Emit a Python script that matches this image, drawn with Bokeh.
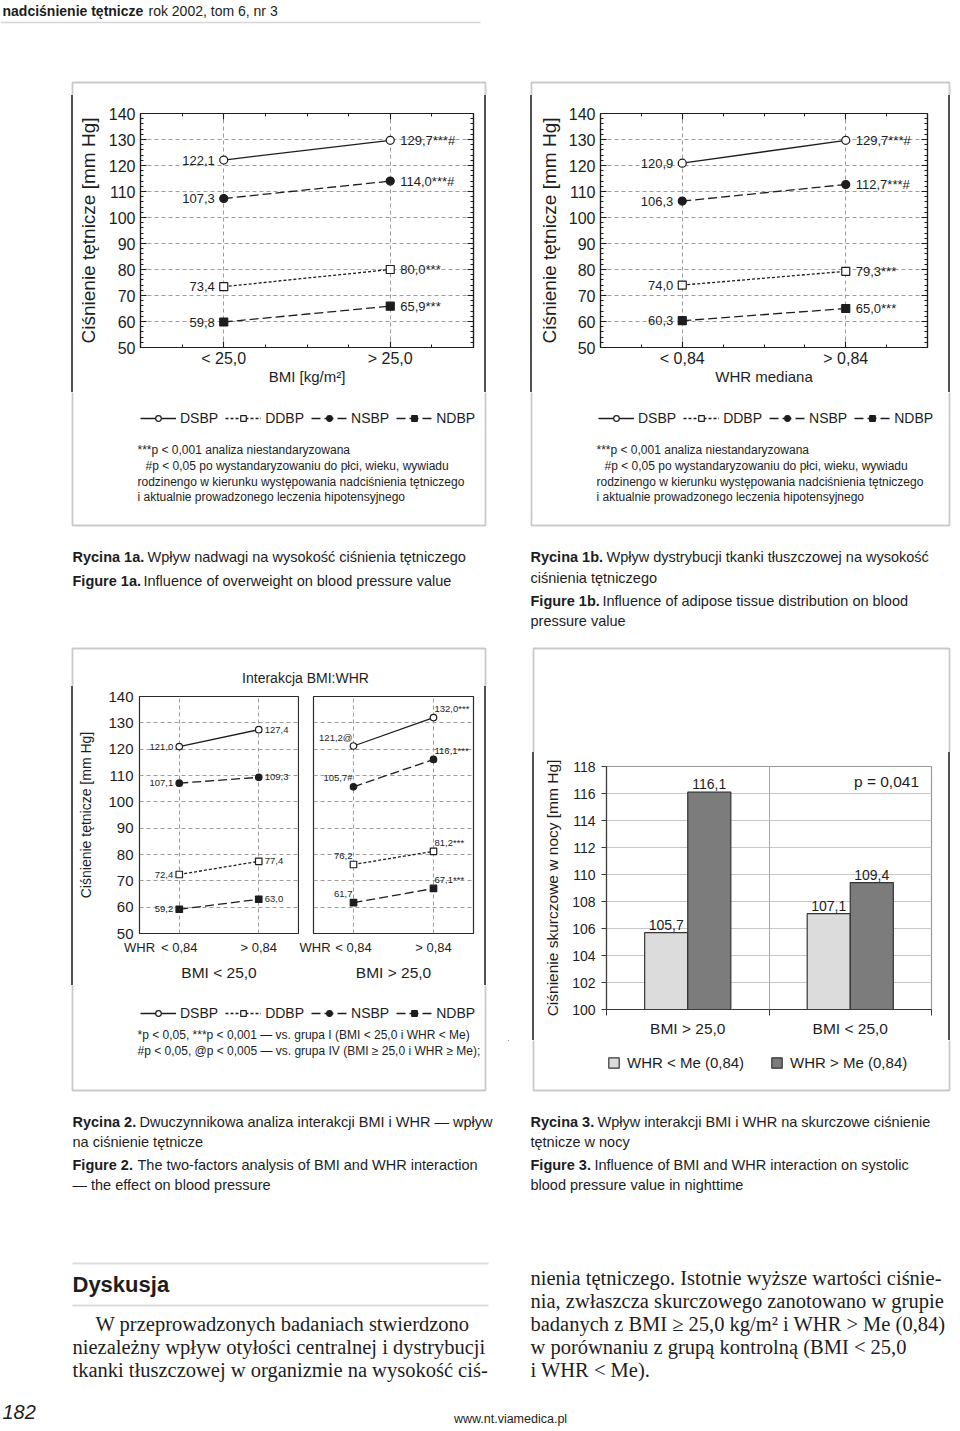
import math
from bokeh.plotting import figure
from bokeh.models import (Range1d, Label, LabelSet, ColumnDataSource, LinearAxis, Grid,
                          SingleIntervalTicker, FixedTicker, CustomJSTickFormatter,
                          Legend, LegendItem, PolyAnnotation, Div)
from bokeh.layouts import row, column
from bokeh.embed import file_html
from bokeh.resources import INLINE
from bokeh.core.properties import value

SANS = "Liberation Sans"
SERIF = "Liberation Serif"
INK = "#1d1d1d"
BOXC = "#505050"
GRIDC = "#9c9c9c"

# ---------------- data ----------------
series_names = ["DSBP", "DDBP", "NSBP", "NDBP"]
bmi_groups = ["< 25,0", "> 25,0"]
whr_groups = ["< 0,84", "> 0,84"]
whr_axis_name = "WHR"

f1a_DSBP = [122.1, 129.7]
f1a_DDBP = [73.4, 80.0]
f1a_NSBP = [107.3, 114.0]
f1a_NDBP = [59.8, 65.9]
f1a_marks = ["***#", "***", "***#", "***"]

f1b_DSBP = [120.9, 129.7]
f1b_DDBP = [74.0, 79.3]
f1b_NSBP = [106.3, 112.7]
f1b_NDBP = [60.3, 65.0]
f1b_marks = ["***#", "***", "***#", "***"]

f2_low_DSBP = [121.0, 127.4]    # BMI < 25,0
f2_low_DDBP = [72.4, 77.4]
f2_low_NSBP = [107.1, 109.3]
f2_low_NDBP = [59.2, 63.0]
f2_high_DSBP = [121.2, 132.0]   # BMI > 25,0
f2_high_DDBP = [76.2, 81.2]
f2_high_NSBP = [105.7, 116.1]
f2_high_NDBP = [61.7, 67.1]
f2_high_marks_left = ["@", "", "#", ""]
f2_high_marks_right = ["***", "***", "***", "***"]

f3_groups = ["BMI > 25,0", "BMI < 25,0"]
f3_series = ["WHR < Me (0,84)", "WHR > Me (0,84)"]
f3_whr_low = [105.7, 107.1]
f3_whr_high = [116.1, 109.4]
f3_p_text = "p = 0,041"

STYLE = {
    "DSBP": ("solid", "circle", "white"),
    "DDBP": ("3 2", "square", "white"),
    "NSBP": ("9 4", "circle", INK),
    "NDBP": ("9 4", "square", INK),
}
F3_FILLS = ["#dcdcdc", "#7c7c7c"]


def fmt(v):
    return f"{v:.1f}".replace(".", ",")


# ---------------- helpers ----------------
def make_tile(ox, oy, w, h, frame=None, x_range=None, y_range=None, xloc=None, yloc=None):
    fl, ft, fw, fh = frame if frame else (0, 0, w, h)
    p = figure(width=w, height=h, title=None, toolbar_location=None, output_backend="svg",
               min_border_left=fl, min_border_top=ft, min_border_right=w - fl - fw,
               min_border_bottom=h - ft - fh,
               x_range=x_range if x_range is not None else Range1d(ox + fl, ox + fl + fw),
               y_range=y_range if y_range is not None else Range1d(oy + ft + fh, oy + ft),
               x_axis_location=xloc, y_axis_location=yloc)
    p.extra_x_ranges = {"px": Range1d(ox + fl, ox + fl + fw)}
    p.extra_y_ranges = {"py": Range1d(oy + ft + fh, oy + ft)}
    for g in p.grid:
        g.visible = False
    p.outline_line_color = None
    p.background_fill_color = "white"
    p.border_fill_color = "white"
    return p


def vstrip(ox, w, h, xs):
    """Narrow spacer holding the vertical sides of the figure frames."""
    bars = "".join(
        f'<div style="position:absolute;left:{x - ox - 1}px;top:0px;width:2px;'
        f'height:{h}px;background:{BOXC}"></div>' for x in xs)
    return Div(text=f'<div style="position:relative;width:{w}px;height:{h}px">{bars}</div>',
               width=w, height=h, margin=0)


def txt(p, x, y, s, size=13, style="normal", align="left", font=SANS, color=INK, angle=0.0,
        baseline="middle"):
    p.add_layout(Label(x=x, y=y, text=s, x_range_name="px", y_range_name="py",
                       text_font=font, text_font_size=f"{size}px", text_font_style=style,
                       text_align=align, text_baseline=baseline, text_color=color, angle=angle))


def seg(p, xs, ys, color=BOXC, width=1.8):
    p.add_layout(PolyAnnotation(xs=list(xs), ys=list(ys), x_range_name="px", y_range_name="py",
                                fill_color=None, fill_alpha=0, line_color=color, line_width=width))


def boxes(p, *rects):
    for (l, t, r, b) in rects:
        seg(p, [l, r, r, l], [t, t, b, b])


def add_grid(p, dim, ticker, color=GRIDC, dash="4 3", width=1.0):
    p.add_layout(Grid(dimension=dim, ticker=ticker, grid_line_color=color,
                      grid_line_dash=dash, grid_line_width=width))


def style_axis(ax, size, t_in=0, t_out=0, m_in=0, m_out=0, standoff=4, line=INK,
               label=None, label_size=16, label_standoff=5):
    ax.major_label_text_font = SANS
    ax.major_label_text_font_size = f"{size}px"
    ax.major_label_text_color = INK
    ax.major_tick_in = t_in
    ax.major_tick_out = t_out
    ax.minor_tick_in = m_in
    ax.minor_tick_out = m_out
    ax.major_label_standoff = standoff
    ax.axis_line_color = line
    ax.axis_line_width = 1.2
    ax.major_tick_line_color = (line or INK) if (t_in or t_out) else None
    ax.minor_tick_line_color = (line or INK) if (m_in or m_out) else None
    ax.major_tick_line_width = 1.1
    ax.minor_tick_line_width = 1.0
    if label:
        ax.axis_label = label
        ax.axis_label_text_font = SANS
        ax.axis_label_text_font_size = f"{label_size}px"
        ax.axis_label_text_font_style = "normal"
        ax.axis_label_text_color = INK
        ax.axis_label_standoff = label_standoff


def line_panel(p, groups, data, marks_left, marks_right, msize, lab_size, loff, roff):
    xs = [2 * i + 1 for i in range(len(groups))]
    for k, name in enumerate(series_names):
        dash, marker, fill = STYLE[name]
        ys = data[name]
        src = ColumnDataSource(dict(x=xs, y=ys))
        p.line("x", "y", source=src, line_color=INK, line_width=1.3, line_dash=dash)
        p.scatter("x", "y", source=src, marker=marker, size=msize, fill_color=fill,
                  line_color=INK, line_width=1.2)
        for j, (off, align, mk) in enumerate(((loff, "right", marks_left[k]),
                                              (roff, "left", marks_right[k]))):
            lsrc = ColumnDataSource(dict(x=[xs[j]], y=[ys[j]], t=[fmt(ys[j]) + mk]))
            p.add_layout(LabelSet(x="x", y="y", text="t", source=lsrc, x_offset=off[0],
                                  y_offset=off[1], text_align=align, text_baseline="middle",
                                  text_font=value(SANS), text_font_size=value(f"{lab_size}px"),
                                  text_color=INK))


def series_keys(p):
    """Legend keys (one off-screen sample per series) for a text strip."""
    rends = {}
    for name in series_names:
        dash, marker, fill = STYLE[name]
        src = ColumnDataSource(dict(x=[-9999], y=[-9999]))
        rl = p.line("x", "y", source=src, line_color=INK, line_width=1.3, line_dash=dash)
        rs = p.scatter("x", "y", source=src, marker=marker, size=6, fill_color=fill,
                       line_color=INK, line_width=1.2)
        rends[name] = [rl, rs]
    return rends


def add_legend(p, items, loc, gw=36, gh=14, standoff=4, spacing=7, size=14):
    lg = Legend(items=items, orientation="horizontal", location=loc, glyph_width=gw,
                glyph_height=gh, label_standoff=standoff, spacing=spacing, padding=0, margin=0,
                border_line_color=None, background_fill_alpha=0, label_text_font=SANS,
                label_text_font_size=f"{size}px", label_text_color=INK)
    p.add_layout(lg)


NOTE1 = ["***p < 0,001 analiza niestandaryzowana",
         "#p < 0,05 po wystandaryzowaniu do p\u0142ci, wieku, wywiadu",
         "rodzinengo w kierunku wyst\u0119powania nadci\u015bnienia t\u0119tniczego",
         "i aktualnie prowadzonego leczenia hipotensyjnego"]
YLAB = "Ci\u015bnienie t\u0119tnicze [mm Hg]"
BOX1A = (72, 82, 485, 525)
BOX1B = (531, 82, 949, 525)
BOX2 = (72, 648, 485, 1090)
BOX3 = (533, 648, 949, 1090)


def fig1_chart(ox, w, frame, groups, data, marks, xlabel, ylab_standoff):
    n = len(groups)
    p = make_tile(ox, 95, w, 297, frame, Range1d(0, 2 * n), Range1d(50, 140), "below", "left")
    maj = [2 * i + 1 for i in range(n)]
    minr = [0.5 * j for j in range(1, 4 * n)]
    p.yaxis.ticker = SingleIntervalTicker(interval=10, num_minor_ticks=5)
    p.xaxis.ticker = FixedTicker(ticks=maj, minor_ticks=minr)
    p.xaxis.major_label_overrides = {m: g for m, g in zip(maj, groups)}
    style_axis(p.yaxis[0], 16, t_in=6, m_in=3, standoff=5, label=YLAB, label_size=19,
               label_standoff=ylab_standoff)
    style_axis(p.xaxis[0], 16, t_in=6, m_in=3, standoff=2, label=xlabel, label_size=15,
               label_standoff=-2)
    ra = LinearAxis(ticker=SingleIntervalTicker(interval=10, num_minor_ticks=5),
                    formatter=CustomJSTickFormatter(code="return '';"))
    ta = LinearAxis(ticker=FixedTicker(ticks=maj, minor_ticks=minr),
                    formatter=CustomJSTickFormatter(code="return '';"))
    style_axis(ra, 1, t_in=6, m_in=3, standoff=0)
    style_axis(ta, 1, t_in=6, m_in=3, standoff=0)
    p.add_layout(ra, "right")
    p.add_layout(ta, "above")
    add_grid(p, 0, FixedTicker(ticks=maj))
    add_grid(p, 1, SingleIntervalTicker(interval=10))
    p.outline_line_color = INK
    p.outline_line_width = 1.2
    line_panel(p, groups, data, ["", "", "", ""], marks, 8, 13, (-9, 0), (10, 0))
    return p


# ---------------- Figure 1 band ----------------
T1 = make_tile(0, 0, 952, 95)
boxes(T1, BOX1A, BOX1B)
txt(T1, 2, 10, "nadci\u015bnienie t\u0119tnicze", size=14, style="bold")
txt(T1, 148, 10, "rok 2002, tom 6, nr 3", size=14)
seg(T1, [0, 480], [22, 22], color="#777777", width=1.5)

L1 = vstrip(0, 74, 297, [72])
A = fig1_chart(74, 406, (64, 18, 335, 234), bmi_groups,
               dict(DSBP=f1a_DSBP, DDBP=f1a_DDBP, NSBP=f1a_NSBP, NDBP=f1a_NDBP), f1a_marks,
               "BMI [kg/m\u00b2]", 7)
M1 = vstrip(480, 55, 297, [485, 531])
B = fig1_chart(535, 400, (62, 18, 330, 234), whr_groups,
               dict(DSBP=f1b_DSBP, DDBP=f1b_DDBP, NSBP=f1b_NSBP, NDBP=f1b_NDBP), f1b_marks,
               "WHR mediana", 6)
R1 = vstrip(935, 17, 297, [949])

B1 = make_tile(0, 392, 952, 244)
boxes(B1, BOX1A, BOX1B)
keys1 = series_keys(B1)
for vx in (140, 598):
    add_legend(B1, [LegendItem(label=nm, renderers=keys1[nm]) for nm in series_names],
               (vx, 636 - 426))
for nx in (137, 596):
    for i, (y, s) in enumerate(zip([449, 465, 481, 496], NOTE1)):
        txt(B1, nx + (8 if i == 1 else 0), y, s, size=12)
txt(B1, 72, 556, "Rycina 1a.", size=14.5, style="bold")
txt(B1, 147, 556, "Wp\u0142yw nadwagi na wysoko\u015b\u0107 ci\u015bnienia t\u0119tniczego", size=14.5)
txt(B1, 72, 580, "Figure 1a.", size=14.5, style="bold")
txt(B1, 143, 580, "Influence of overweight on blood pressure value", size=14.5)
txt(B1, 530, 556, "Rycina 1b.", size=14.5, style="bold")
txt(B1, 606, 556, "Wp\u0142yw dystrybucji tkanki t\u0142uszczowej na wysoko\u015b\u0107", size=14.5)
txt(B1, 530, 577, "ci\u015bnienia t\u0119tniczego", size=14.5)
txt(B1, 530, 600, "Figure 1b.", size=14.5, style="bold")
txt(B1, 602, 600, "Influence of adipose tissue distribution on blood", size=14.5)
txt(B1, 530, 620, "pressure value", size=14.5)

# ---------------- Figure 2 ----------------
Ct = make_tile(0, 636, 508, 50)
boxes(Ct, BOX2)
txt(Ct, 305, 677, "Interakcja BMI:WHR", size=14, align="center")


def fig2_panel(ox, w, frame, data, marks_left, marks_right, loff, roff, with_y, xlabel):
    p = make_tile(ox, 686, w, 299, frame, Range1d(0, 4), Range1d(50, 140),
                  "below", "left" if with_y else None)
    ticks = [0] + [2 * i + 1 for i in range(len(whr_groups))]
    p.xaxis.ticker = FixedTicker(ticks=ticks)
    p.xaxis.major_label_overrides = dict(zip(ticks, [whr_axis_name] + whr_groups))
    style_axis(p.xaxis[0], 13, standoff=6, line=None, label=xlabel, label_size=15.5,
               label_standoff=6)
    if with_y:
        p.yaxis.ticker = SingleIntervalTicker(interval=10, num_minor_ticks=0)
        style_axis(p.yaxis[0], 15, standoff=6, line=None, label=YLAB, label_size=14,
                   label_standoff=11)
    add_grid(p, 0, FixedTicker(ticks=ticks[1:]))
    add_grid(p, 1, SingleIntervalTicker(interval=10))
    p.outline_line_color = "#2a2a2a"
    p.outline_line_width = 1.2
    line_panel(p, whr_groups, data, marks_left, marks_right, 6.5, 9.5, loff, roff)
    return p


L2 = vstrip(0, 75, 299, [72])
C1 = fig2_panel(75, 224, (63, 10, 160, 237),
                dict(DSBP=f2_low_DSBP, DDBP=f2_low_DDBP, NSBP=f2_low_NSBP, NDBP=f2_low_NDBP),
                ["", "", "", ""], ["", "", "", ""], (-6, 0), (6, 0), True, "BMI < 25,0")
C2 = fig2_panel(299, 181, (14, 10, 160, 237),
                dict(DSBP=f2_high_DSBP, DDBP=f2_high_DDBP, NSBP=f2_high_NSBP, NDBP=f2_high_NDBP),
                f2_high_marks_left, f2_high_marks_right, (-1, 9), (1, 9), False, "BMI > 25,0")
R2 = vstrip(480, 28, 299, [485])

Cb = make_tile(0, 985, 508, 215)
boxes(Cb, BOX2)
keys2 = series_keys(Cb)
add_legend(Cb, [LegendItem(label=nm, renderers=keys2[nm]) for nm in series_names],
           (140, 1200 - 1021))
txt(Cb, 137, 1034, "*p < 0,05, ***p < 0,001 \u2014 vs. grupa I (BMI < 25,0 i WHR < Me)", size=12)
txt(Cb, 137, 1050, "#p < 0,05, @p < 0,005 \u2014 vs. grupa IV (BMI \u2265 25,0 i WHR \u2265 Me);",
    size=12)
txt(Cb, 72, 1121, "Rycina 2.", size=14.5, style="bold")
txt(Cb, 139, 1121, "Dwuczynnikowa analiza interakcji BMI i WHR \u2014 wp\u0142yw", size=14.5)
txt(Cb, 72, 1141, "na ci\u015bnienie t\u0119tnicze", size=14.5)
txt(Cb, 72, 1164, "Figure 2.", size=14.5, style="bold")
txt(Cb, 137, 1164, "The two-factors analysis of BMI and WHR interaction", size=14.5)
txt(Cb, 72, 1184, "\u2014 the effect on blood pressure", size=14.5)

# ---------------- Figure 3 ----------------
Dt = make_tile(508, 636, 444, 116)
boxes(Dt, BOX3)
DL = vstrip(508, 32, 288, [533])
D = make_tile(540, 752, 400, 288, (66, 14, 325, 243), Range1d(0, 4), Range1d(100, 118),
              "below", "left")
gx = [2 * i + 1 for i in range(len(f3_groups))]
D.yaxis.ticker = SingleIntervalTicker(interval=2, num_minor_ticks=0)
D.xaxis.ticker = FixedTicker(ticks=gx, minor_ticks=[0, 2, 4])
D.xaxis.major_label_overrides = dict(zip(gx, f3_groups))
style_axis(D.yaxis[0], 14, t_out=5, standoff=6, line="#3a3a3a",
           label="Ci\u015bnienie skurczowe w nocy [mm Hg]", label_size=15.5, label_standoff=8)
style_axis(D.xaxis[0], 15.5, m_out=6, standoff=4, line="#3a3a3a")
add_grid(D, 1, SingleIntervalTicker(interval=2), color="#c6c6c6", dash="solid")
add_grid(D, 0, FixedTicker(ticks=[2]), color="#a8a8a8", dash="solid")
D.outline_line_color = "#9a9a9a"
D.outline_line_width = 1.2
bw = 0.53
for vals, side, fill in ((f3_whr_low, -1, F3_FILLS[0]), (f3_whr_high, 1, F3_FILLS[1])):
    s = ColumnDataSource(dict(x=[c + side * bw / 2 for c in gx], top=vals,
                              t=[fmt(v) for v in vals]))
    D.vbar(x="x", top="top", bottom=100, width=bw, source=s, fill_color=fill,
           line_color="#333333", line_width=1.2)
    D.add_layout(LabelSet(x="x", y="top", text="t", source=s, y_offset=3, text_align="center",
                          text_baseline="bottom", text_font=value(SANS),
                          text_font_size=value("14px"), text_color=INK))
txt(D, 886, 781, f3_p_text, size=15.5, align="center")
DR = vstrip(940, 12, 288, [949])

Db = make_tile(508, 1040, 444, 160)
boxes(Db, BOX3)
key_r = []
for fill in F3_FILLS:
    ks = ColumnDataSource(dict(x=[-9999], top=[-9998]))
    key_r.append(Db.vbar(x="x", top="top", bottom=-9999, width=1, source=ks, fill_color=fill,
                         line_color="#333333", line_width=1.2))
add_legend(Db, [LegendItem(label=f3_series[0], renderers=[key_r[0]]),
                LegendItem(label=f3_series[1], renderers=[key_r[1]])],
           (607 - 508, 1200 - 1071), gw=13, gh=13, standoff=7, spacing=26, size=15)
txt(Db, 530, 1121, "Rycina 3.", size=14.5, style="bold")
txt(Db, 597, 1121, "Wp\u0142yw interakcji BMI i WHR na skurczowe ci\u015bnienie", size=14.5)
txt(Db, 530, 1141, "t\u0119tnicze w nocy", size=14.5)
txt(Db, 530, 1164, "Figure 3.", size=14.5, style="bold")
txt(Db, 594, 1164, "Influence of BMI and WHR interaction on systolic", size=14.5)
txt(Db, 530, 1184, "blood pressure value in nighttime", size=14.5)

# ---------------- text band ----------------
E = make_tile(0, 1200, 952, 226)
seg(E, [72, 488], [1263, 1263], color="#8a8a8a", width=2)
seg(E, [72, 488], [1305, 1305], color="#8a8a8a", width=2)
txt(E, 72, 1284, "Dyskusja", size=22, style="bold")
left_lines = [(95, 1323, "W przeprowadzonych badaniach stwierdzono"),
              (72, 1346, "niezale\u017cny wp\u0142yw oty\u0142o\u015bci centralnej i dystrybucji"),
              (72, 1369, "tkanki t\u0142uszczowej w organizmie na wysoko\u015b\u0107 ci\u015b-")]
right_lines = [(530, 1277, "nienia t\u0119tniczego. Istotnie wy\u017csze warto\u015bci ci\u015bnie-"),
               (530, 1300, "nia, zw\u0142aszcza skurczowego zanotowano w grupie"),
               (530, 1323, "badanych z BMI \u2265 25,0 kg/m\u00b2 i WHR > Me (0,84)"),
               (530, 1346, "w por\u00f3wnaniu z grup\u0105 kontroln\u0105 (BMI < 25,0"),
               (530, 1369, "i WHR < Me).")]
for x, y, s in left_lines + right_lines:
    txt(E, x, y, s, size=20.5, font=SERIF)
txt(E, 2, 1411, "182", size=20, style="italic")
txt(E, 510, 1418, "www.nt.viamedica.pl", size=12.5, align="center")

layout = column(T1, row(L1, A, M1, B, R1), B1,
                row(column(Ct, row(L2, C1, C2, R2), Cb), column(Dt, row(DL, D, DR), Db)),
                E)
open("out.html", "w").write(file_html(layout, INLINE))
